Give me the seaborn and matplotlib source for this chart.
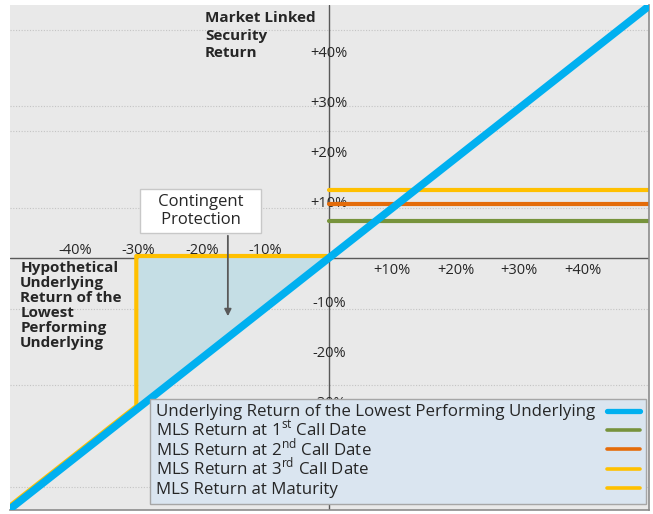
import matplotlib
matplotlib.use("Agg")
import matplotlib.pyplot as plt
import matplotlib.transforms as mtransforms
from matplotlib.transforms import Bbox
import seaborn as sns
import pandas as pd

# ---------------- data ----------------
underlying_x = [-51, 51]
underlying_y = [-51, 51]
call1_x = [0, 50.4]
call1_y = [7.5, 7.5]
call2_x = [0, 50.4]
call2_y = [10.8, 10.8]
call3_x = [0, 50.4]
call3_y = [13.6, 13.6]
maturity_x = [-51, -30, -30, 0]
maturity_y = [-51, -30, 0, 0]
protect_x = [-30, 0, -30]
protect_y = [0, 0, -30]
grid_y = [45.6, 30.4, 25.4, 10, -10.2, -25.4, -45.8]
xtick_vals = [-40, -30, -20, -10, 10, 20, 30, 40]
xtick_labels = ["-40%", "-30%", "-20%", "-10%", "+10%", "+20%", "+30%", "+40%"]
ytick_vals = [40, 30, 20, 10, -10, -20, -30]
ytick_labels = ["+40%", "+30%", "+20%", "+10%", "-10%", "-20%", "-30%"]
ytitle_lines = ["Market Linked", "Security", "Return"]
xtitle_lines = ["Hypothetical", "Underlying", "Return of the", "Lowest",
                "Performing", "Underlying"]
series_names = [
    "Underlying Return of the Lowest Performing Underlying",
    r"MLS Return at 1$^{\mathregular{st}}$ Call Date",
    r"MLS Return at 2$^{\mathregular{nd}}$ Call Date",
    r"MLS Return at 3$^{\mathregular{rd}}$ Call Date",
    "MLS Return at Maturity",
]

# ---------------- style ----------------
sns.set_theme(style="white")
plt.rcParams["font.family"] = ["Open Sans", "DejaVu Sans"]
plt.rcParams["mathtext.fontset"] = "custom"
plt.rcParams["mathtext.rm"] = "Open Sans"

BLUE = "#00b0f0"
GREEN = "#77933c"
ORANGE = "#e46c0a"
YELLOW = "#ffc000"
TEXT = "#262626"

fig = plt.figure(figsize=(6.53, 5.14), dpi=100)
ax = fig.add_axes([10 / 653, 4 / 514, 639 / 653, 505 / 514])
ax.set_facecolor("#e9e9e9")
ax.set_xlim(-50.2, 50.4)
ax.set_ylim(-50.4, 50.6)
ax.set_xticks([])
ax.set_yticks([])
for s in ["left", "top"]:
    ax.spines[s].set_visible(False)
for s in ["right", "bottom"]:
    ax.spines[s].set_color("#8c8c8c")
    ax.spines[s].set_linewidth(1.2)

# dotted gridlines
for gy in grid_y:
    ax.axhline(gy, color="#c4c4c4", lw=0.8, ls=(0, (1, 1.5)), zorder=0)

# axes through origin
ax.axhline(0, color="#595959", lw=1.0, zorder=1)
ax.axvline(0, color="#595959", lw=1.0, zorder=1)

# shaded protection triangle
ax.fill(protect_x, protect_y, color="#c5dee5", zorder=1.5, lw=0)

df_u = pd.DataFrame({"x": underlying_x, "y": underlying_y})
df_1 = pd.DataFrame({"x": call1_x, "y": call1_y})
df_2 = pd.DataFrame({"x": call2_x, "y": call2_y})
df_3 = pd.DataFrame({"x": call3_x, "y": call3_y})
df_m = pd.DataFrame({"x": maturity_x, "y": maturity_y})

sns.lineplot(data=df_u, x="x", y="y", color=BLUE, lw=5.5, ax=ax,
             label=series_names[0], zorder=3, estimator=None, sort=False)
sns.lineplot(data=df_1, x="x", y="y", color=GREEN, lw=3, ax=ax,
             label=series_names[1], zorder=2, estimator=None, sort=False)
sns.lineplot(data=df_2, x="x", y="y", color=ORANGE, lw=3, ax=ax,
             label=series_names[2], zorder=2, estimator=None, sort=False)
sns.lineplot(data=df_3, x="x", y="y", color=YELLOW, lw=3, ax=ax,
             label=series_names[3], zorder=2, estimator=None, sort=False)
off = mtransforms.offset_copy(ax.transData, fig=fig, x=-2.0, y=2.0, units="dots")
sns.lineplot(data=df_m, x="x", y="y", color=YELLOW, lw=3, ax=ax,
             label=series_names[4], zorder=2.5, estimator=None, sort=False,
             transform=off)

ax.set_xlabel("")
ax.set_ylabel("")

# tick labels centred on the axis lines
for v, t in zip(xtick_vals, xtick_labels):
    yy = 1.5 if v < 0 else -2.5
    ax.text(v, yy, t, ha="center", va="center", fontsize=10.5, color=TEXT, zorder=4)
for v, t in zip(ytick_vals, ytick_labels):
    ax.text(0, v + 0.9, t, ha="center", va="center", fontsize=10.5, color=TEXT, zorder=1.2)

# axis titles (one text per line)
px = 1 / 5.0  # data units per pixel (vertical)
for i, line in enumerate(ytitle_lines):
    ax.text(-19.5, 48.0 - i * 17.5 * px, line, ha="left", va="center",
            fontsize=11, fontweight="bold", color=TEXT)
for i, line in enumerate(xtitle_lines):
    ax.text(-48.6, -2.0 - i * 15.0 * px, line, ha="left", va="center",
            fontsize=11, fontweight="bold", color=TEXT)

# contingent protection callout
ax.annotate("", xy=(-15.9, -12.2), xytext=(-15.9, 5.0),
            arrowprops=dict(arrowstyle="-|>", color="#595959", lw=1.3, mutation_scale=10),
            zorder=4)
ax.text(-20.2, 9.4, "   Contingent   \n   Protection   ", ha="center", va="center",
        fontsize=12, color=TEXT, zorder=5, linespacing=1.15,
        bbox=dict(boxstyle="square,pad=0.3", fc="white", ec="#c8c8c8", lw=1))

leg = ax.legend(loc="lower left", bbox_to_anchor=(0.219, 0.012), borderaxespad=0,
                markerfirst=False, frameon=True, fancybox=False, framealpha=1,
                facecolor="#dae5f0", edgecolor="#a6a6a6", fontsize=12.2,
                labelspacing=0.2, handlelength=1.95, handletextpad=0.7,
                borderpad=0.35, labelcolor=TEXT)
leg.get_frame().set_linewidth(1.0)
leg.set_zorder(6)
for i, h in enumerate(leg.legend_handles):
    h.set_linewidth(3.8 if i == 0 else 2.6)

# equal row heights, left-aligned labels, right-aligned handles
fig.canvas.draw()
renderer = fig.canvas.get_renderer()
dpicor = renderer.points_to_pixels(1.0)
for col in leg._legend_handle_box.get_children():
    items = col.get_children()
    ref_bb = items[0].get_children()[0].get_bbox(renderer)
    for it in items:
        ta = it.get_children()[0]
        bb = ta.get_bbox(renderer)
        if bb.height > ref_bb.height + 0.5:
            ta.get_bbox = (lambda r, x0=bb.x0, w=bb.width, y0=ref_bb.y0, h=ref_bb.height:
                           Bbox.from_bounds(x0, y0, w, h))
    widths = [it.get_children()[0].get_bbox(renderer).width for it in items]
    maxw = max(widths)
    for it, w in zip(items, widths):
        it.sep = it.sep + (maxw - w) / dpicor

fig.savefig("out.png", dpi=100, facecolor="white")
